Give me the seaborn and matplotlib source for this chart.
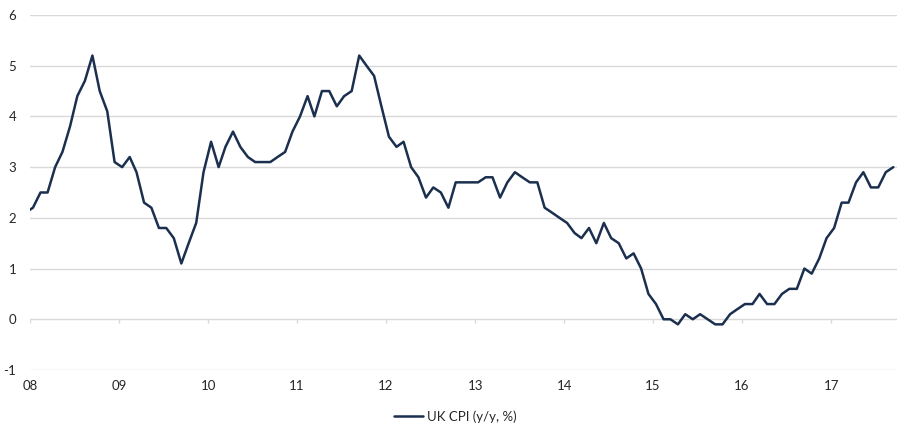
import pandas as pd
import matplotlib
matplotlib.use("Agg")
import matplotlib.pyplot as plt
import seaborn as sns

sns.set_theme(style="white")
plt.rcParams["font.family"] = ["Lato", "DejaVu Sans"]

# monthly UK CPI y/y, Dec 2007 .. Sep 2017
start_month = "2007-12-01"
cpi = [
    2.1,
    2.2, 2.5, 2.5, 3.0, 3.3, 3.8, 4.4, 4.7, 5.2, 4.5, 4.1, 3.1,
    3.0, 3.2, 2.9, 2.3, 2.2, 1.8, 1.8, 1.6, 1.1, 1.5, 1.9, 2.9,
    3.5, 3.0, 3.4, 3.7, 3.4, 3.2, 3.1, 3.1, 3.1, 3.2, 3.3, 3.7,
    4.0, 4.4, 4.0, 4.5, 4.5, 4.2, 4.4, 4.5, 5.2, 5.0, 4.8, 4.2,
    3.6, 3.4, 3.5, 3.0, 2.8, 2.4, 2.6, 2.5, 2.2, 2.7, 2.7, 2.7,
    2.7, 2.8, 2.8, 2.4, 2.7, 2.9, 2.8, 2.7, 2.7, 2.2, 2.1, 2.0,
    1.9, 1.7, 1.6, 1.8, 1.5, 1.9, 1.6, 1.5, 1.2, 1.3, 1.0, 0.5,
    0.3, 0.0, 0.0, -0.1, 0.1, 0.0, 0.1, 0.0, -0.1, -0.1, 0.1, 0.2,
    0.3, 0.3, 0.5, 0.3, 0.3, 0.5, 0.6, 0.6, 1.0, 0.9, 1.2, 1.6,
    1.8, 2.3, 2.3, 2.7, 2.9, 2.6, 2.6, 2.9, 3.0,
]
year_ticks = [str(y) for y in range(2008, 2018)]
year_labels = ["08", "09", "10", "11", "12", "13", "14", "15", "16", "17"]
y_ticks = [-1, 0, 1, 2, 3, 4, 5, 6]

df = pd.DataFrame({
    "date": pd.date_range(start_month, periods=len(cpi), freq="MS") + pd.Timedelta(days=12),
    "UK CPI (y/y, %)": cpi,
})

fig = plt.figure(figsize=(9.1, 4.36), dpi=100)
ax = fig.add_axes([0.033, 0.1514, 0.9527, 0.8142])

navy = "#1b2f4e"
grid = "#d9d9d9"

for y in y_ticks:
    ax.axhline(y, color=grid, lw=1.0, zorder=0)

ticks = pd.to_datetime(year_ticks)
ax.vlines(ticks, 0, -0.08, color=grid, lw=1.0, zorder=0)

sns.lineplot(data=df, x="date", y="UK CPI (y/y, %)", ax=ax, color=navy,
             lw=1.8, label="UK CPI (y/y, %)", legend=False)

ax.set_xlim(pd.Timestamp("2008-01-01"), pd.Timestamp("2017-09-28"))
ax.set_ylim(-1, 6)
ax.set_xticks(ticks)
ax.set_xticklabels(year_labels)
ax.set_yticks(y_ticks)
ax.set_yticklabels([str(v) for v in y_ticks])
ax.tick_params(axis="both", length=0, labelsize=9.5, colors="#262626")
ax.tick_params(axis="y", pad=10)
ax.tick_params(axis="x", pad=7)
ax.set_xlabel("")
ax.set_ylabel("")
for s in ax.spines.values():
    s.set_visible(False)

h, l = ax.get_legend_handles_labels()
fig.legend(h, l, loc="center", bbox_to_anchor=(0.5, 0.045), frameon=False,
           fontsize=9.5, handlelength=2.2, handletextpad=0.3, labelcolor="#262626")

fig.savefig("out.png", dpi=100)
